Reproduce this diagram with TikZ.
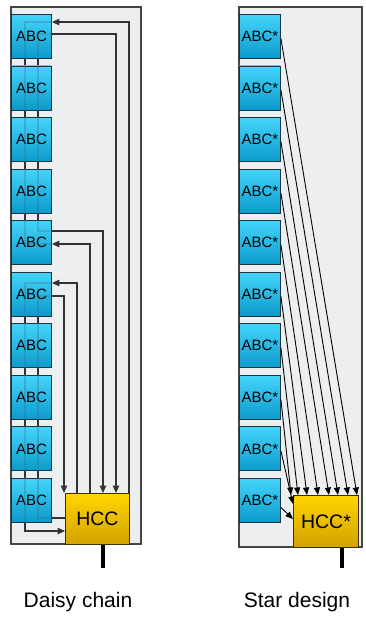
\documentclass[tikz,border=0pt]{standalone}
\usepackage{fontspec}
\setmainfont{Liberation Sans}
\usetikzlibrary{arrows.meta,calc,backgrounds}
\definecolor{panelfill}{HTML}{ECEEF0}
\definecolor{panelline}{HTML}{444444}
\definecolor{abctop}{HTML}{44D4FA}
\definecolor{abcbot}{HTML}{0A9BCC}
\definecolor{abcline}{HTML}{1B3442}
\definecolor{hcctop}{HTML}{FFD600}
\definecolor{hccbot}{HTML}{D2A200}
\definecolor{hccline}{HTML}{3A3000}
\definecolor{wirecol}{HTML}{333333}

\begin{document}
\begin{tikzpicture}[x=1pt,y=-1pt,
  panel/.style={draw=panelline,fill=panelfill,line width=1.1pt},
  abc/.style={draw=abcline,line width=0.9pt,top color=abctop,bottom color=abcbot,
    inner sep=0pt,anchor=north west,minimum height=44pt,font=\fontsize{15}{18}\selectfont},
  abcl/.style={abc,minimum width=40pt},
  abcr/.style={abc,minimum width=41pt},
  hcc/.style={draw=hccline,line width=0.9pt,top color=hcctop,bottom color=hccbot,
    inner sep=0pt,anchor=north west,font=\fontsize{19.5}{22}\selectfont},
  wire/.style={draw=wirecol,line width=1.2pt},
  tip/.style={-{Triangle[length=7.5pt,width=6.5pt]}},
  ray/.style={draw=black,line width=0.9pt,-{Triangle[length=7.5pt,width=6pt]}},
  link/.style={draw=black!60!cyan,opacity=0.3,line width=1.2pt},
  feed/.style={line width=3.5pt,draw=black},
  caption/.style={font=\fontsize{21}{25}\selectfont}
]
\useasboundingbox (0,0) rectangle (365,617);

% module columns
\foreach \i in {1,...,10}{
  \pgfmathsetmacro\t{14+51.55*(\i-1)}
  \node[abcl] (a\i) at (11,\t) {ABC};
  \node[abcr] (s\i) at (239,\t) {ABC*};
}

% routing points of the daisy chain
\coordinate (ca) at (25,0);
\coordinate (cb) at (38,0);
\coordinate (k1) at (129,22);
\coordinate (k2) at (116,34);
\coordinate (k3) at (103,231);
\coordinate (k4) at (90,244);
\coordinate (k5) at (77,283);
\coordinate (k6) at (64,296);
\coordinate (k7) at (38,518);
\coordinate (k8) at (25,531);
\coordinate (e1) at (103,568);
\coordinate (e2) at (342,568);

% host controllers
\draw[feed] (103,544) -- (e1);
\draw[feed] (342,547) -- (e2);
\node[hcc,minimum width=64pt,minimum height=51pt] (h) at (65,493) {HCC};
\node[hcc,minimum width=65pt,minimum height=52pt] (hs) at (293,495) {HCC*};

% panels and the chain links between stacked modules
\begin{scope}[on background layer]
  \draw[panel] (11,7) rectangle (141,544);
  \draw[panel] (239,7) rectangle (362,547);
  \draw[wire] (a1 -| ca) -- (a5 -| ca) (a1 -| cb) -- (a5 -| cb)
              (a6 -| ca) -- (a10 -| ca) (a6 -| cb) -- (a10 -| cb);
\end{scope}

% chain links seen through the modules
\foreach \i in {1,...,10}{
  \begin{scope}
    \clip (a\i.north west) rectangle (a\i.south east);
    \draw[link] (a1.east |- k1) -| (ca |- k4) -- (a5.east |- k4);
    \draw[link] (a1.east |- k2) -| (cb |- k3) -- (a5.east |- k3);
    \draw[link] (a6.east |- k5) -| (ca |- k8);
    \draw[link] (a6.east |- k6) -| (cb |- k7) -- (a10.east |- k7);
  \end{scope}
}

% daisy chain connections to the host controller
\draw[wire,tip] (h.north -| k1) |- (a1.east |- k1);
\draw[wire,tip] (a1.east |- k2) -| (h.north -| k2);
\draw[wire,tip] (a5.east |- k3) -| (h.north -| k3);
\draw[wire,tip] (h.north -| k4) |- (a5.east |- k4);
\draw[wire,tip] (h.north -| k5) |- (a6.east |- k5);
\draw[wire,tip] (a6.east |- k6) -| (h.north -| k6);
\draw[wire] (a10.east |- k7) -- (h.west |- k7);
\draw[wire,tip] (a10.south -| ca) |- (h.west |- k8);

% star connections
\foreach \i/\dx in {1/64,2/55,3/45,4/36,5/25,6/14,7/5,8/-2}
  \draw[ray] ($(s\i.east)+(0,2)$) -- ($(hs.north west)+(\dx,0)$);
\draw[ray] ($(s9.east)+(0,2)$) -- ($(hs.north west)+(0,9)$);
\draw[ray] ($(s10.east)+(0,7)$) -- ($(hs.north west)+(0,24)$);

% captions
\node[caption] (cap1) at (78,602) {Daisy chain};
\node[caption] (cap2) at (297,602) {Star design};
\end{tikzpicture}
\end{document}
